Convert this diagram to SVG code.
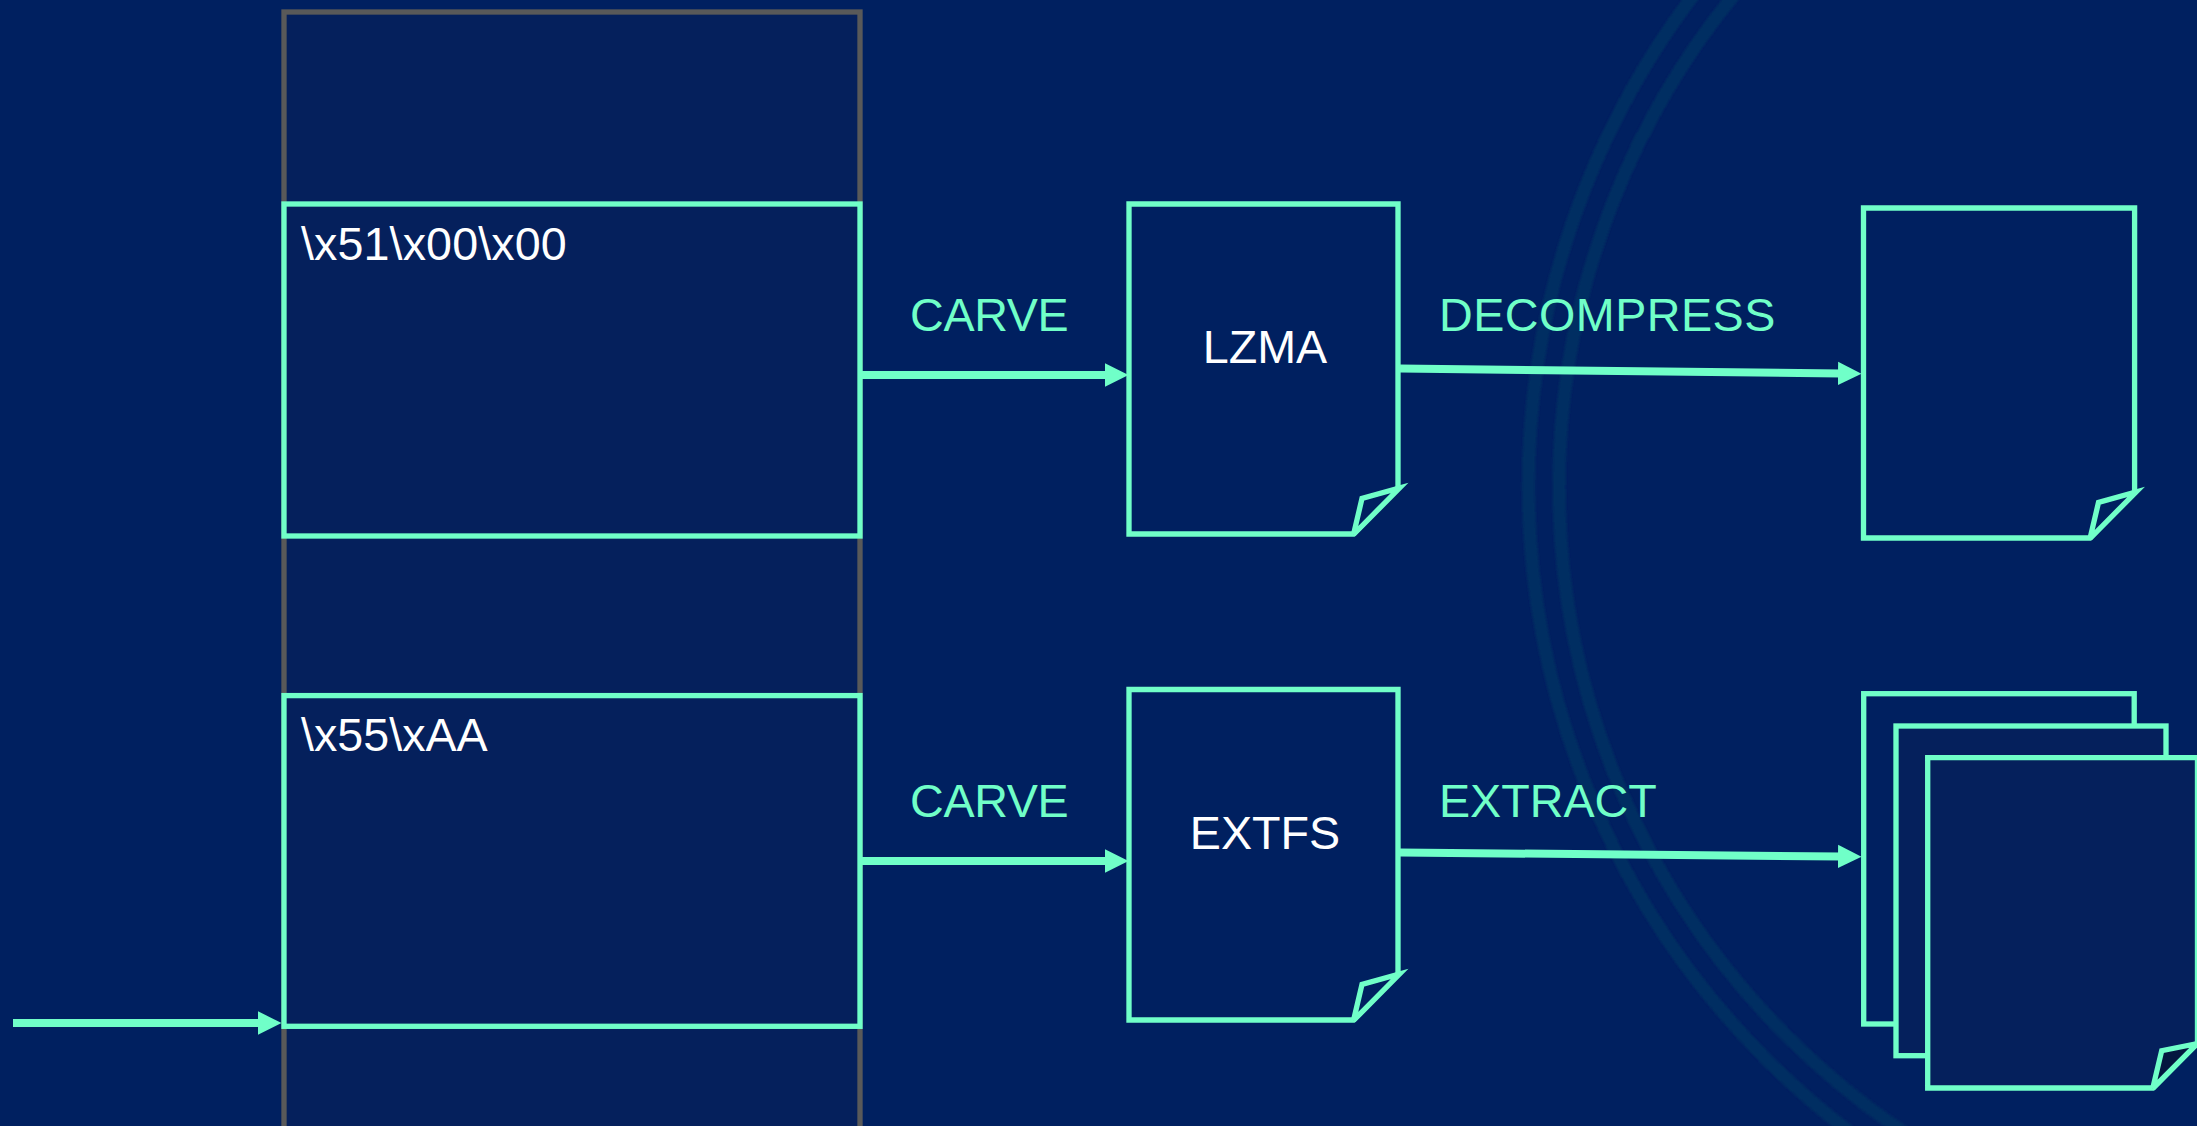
<svg xmlns="http://www.w3.org/2000/svg" width="2197" height="1126" viewBox="0 0 2197 1126">
<style>
text{font-family:"Liberation Sans",Arial,sans-serif;font-size:46.67px}
.w{fill:#fff}.t{fill:#70ffc8}
.box{fill:#05205c;stroke:#70ffc8;stroke-width:5.33}
.doc{fill:#002060;stroke:#70ffc8;stroke-width:5.33;stroke-miterlimit:10}
.sheet{fill:#05205c;stroke:#70ffc8;stroke-width:5.33;stroke-miterlimit:10}
.fold{fill:#002060;stroke:#70ffc8;stroke-width:5.33;stroke-miterlimit:10}
.arc{fill:none;stroke:#002e62;stroke-width:13}
.c{fill:none;stroke:#70ffc8;stroke-width:8;marker-end:url(#a)}
</style>
<defs><marker id="a" markerUnits="userSpaceOnUse" markerWidth="24" markerHeight="24" refX="3" refY="12" orient="auto"><path d="M0 .3L23.5 12L0 23.7Z" fill="#70ffc8"/></marker>
<filter id="soft" x="-5%" y="-5%" width="110%" height="110%"><feGaussianBlur stdDeviation="0.8"/></filter></defs>
<rect width="2197" height="1126" fill="#002060"/>
<g id="background-arcs" filter="url(#soft)"><circle class="arc" cx="2339.3" cy="485.6" r="810.8"/><circle class="arc" cx="2336" cy="486.3" r="777"/></g>
<g id="memory"><rect x="284" y="12" width="576" height="1130" fill="#05205c" stroke="#595959" stroke-width="5.33"/></g>
<g id="region-1"><rect class="box" x="284" y="204" width="576" height="332"/><text class="w" x="301" y="260" letter-spacing=".1">\x51\x00\x00</text></g>
<g id="region-2"><rect class="box" x="284" y="695.6" width="576" height="330.7"/><text class="w" x="301" y="751">\x55\xAA</text></g>
<g id="lzma"><path class="doc" d="M1129 204H1398V487.5L1353.5 534H1129Z"/><path class="fold" d="M1353.5 534.5L1362 498.5L1399.5 488L1353.5 534.5"/><text class="w" x="1265" y="363" text-anchor="middle">LZMA</text></g>
<g id="extfs"><path class="doc" d="M1129 689.5H1398V973.5L1353.5 1020H1129Z"/><path class="fold" d="M1353.5 1020.5L1362 984.5L1399.5 974L1353.5 1020.5"/><text class="w" x="1265" y="849" text-anchor="middle">EXTFS</text></g>
<g id="output-1"><path class="doc" d="M1863.5 208H2134.6V491.5L2090 538H1863.5Z"/><path class="fold" d="M2090 538.5L2098.5 502.5L2136 492L2090 538.5"/></g>
<g id="output-stack"><rect class="doc" x="1863.7" y="693.7" width="270.5" height="330.3"/><rect class="sheet" x="1896" y="726" width="270" height="329.7"/><path class="sheet" d="M1927.7 757.7H2197.5V1042.7L2152.7 1088H1927.7Z"/><path class="fold" d="M2152.7 1088.5L2161.7 1050.7L2197.5 1043.5L2152.7 1088.5" style="fill:#04173f"/></g>
<g id="connectors">
<path class="c" d="M13 1023H261"/>
<path class="c" d="M862 375H1108"/>
<path class="c" d="M862 861H1108"/>
<path class="c" d="M1400 368.5L1841 373.5"/>
<path class="c" d="M1400 852.5L1841 856.5"/>
</g>
<g id="labels"><text class="t" x="910" y="331" letter-spacing="-.3">CARVE</text><text class="t" x="910" y="817" letter-spacing="-.3">CARVE</text><text class="t" x="1439" y="331" letter-spacing=".5">DECOMPRESS</text><text class="t" x="1439" y="817">EXTRACT</text></g>
</svg>
